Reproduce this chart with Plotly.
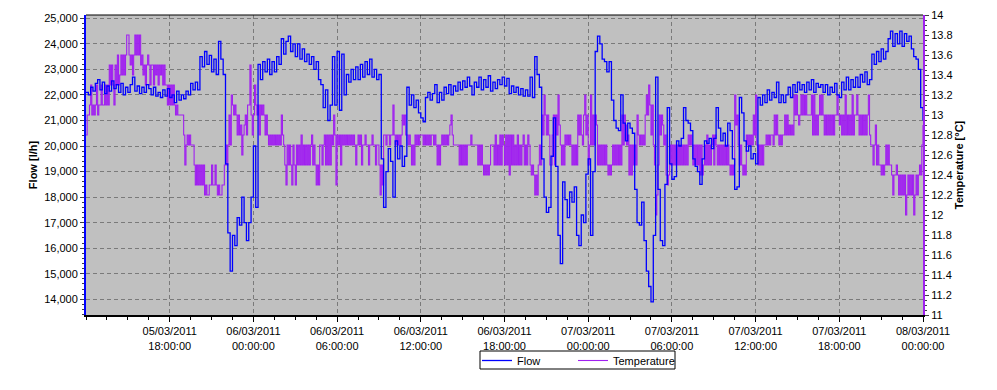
import plotly.graph_objects as go
import pandas as pd

start = "2011-03-05 12:00"
end = "2011-03-08 00:00"

# Flow [l/h], one reading every 10 minutes from 05/03/2011 12:00
flow = [
    22100, 22000, 22300, 22150, 22450, 22600, 22200, 22500, 22050, 22350, 22150, 22550,
    22250, 22400, 22100, 22450, 22000, 22300, 22100, 22400, 22700, 22150, 22350, 22050,
    22300, 22100, 22400, 22250, 22000, 22300, 21950, 22100, 21900, 22200, 21950, 22250,
    21900, 22000, 21700, 22150, 21800, 22000, 21850, 22150, 22000, 22450, 22200, 22500,
    22200, 23500, 23100, 23700, 23200, 23550, 22900, 23400, 22800, 24100, 23400, 22800,
    19300, 16600, 15100, 16500, 16100, 17200, 16900, 18000, 17000, 16300, 17000, 18000,
    20000, 17600, 23200, 22600, 23300, 22900, 23400, 22800, 23300, 22900, 23500, 23200,
    24200, 23600, 24100, 24300, 23700, 24000, 23500, 24000, 23400, 23800, 23300, 23600,
    23200, 23500, 23000, 23300, 22600, 22400, 21500, 22200, 21000, 21600, 23500, 21600,
    23700, 21400, 23600, 22000, 22800, 22500, 23000, 22600, 23100, 22600, 23200, 22700,
    23300, 22800, 23400, 22700, 23000, 22600, 22800, 19500, 17600, 19000, 19900, 19400,
    18000, 20200, 19500, 20000, 19200, 19600, 22300, 21600, 22000, 21500, 21800, 21300,
    21100, 20950, 21900, 22100, 21800, 22050, 22400, 21700, 22100, 21800, 22300, 22050,
    22400, 22000, 22350, 22150, 22500, 22200, 22550, 22300, 22700, 22350, 22000, 22500,
    22300, 22700, 22200, 22600, 22300, 22750, 22150, 22500, 22250, 22600, 22400, 22700,
    22350, 22650, 22050, 22350, 22100, 22300, 22000, 22250, 21950, 22200, 21950, 22700,
    21900, 23500, 22800, 22300, 19500, 18000, 17400, 17600, 19600, 21100, 19200, 16500,
    15400, 18600, 17900, 17200, 18200, 17800, 18400, 16500, 16100, 17300, 17000, 18900,
    19500, 16500, 19000, 23700, 24300, 24000, 23400, 23300, 22900, 23300, 21800, 21000,
    20700, 20600, 22000, 20900, 20200, 20900, 20700, 20500, 18300, 17000, 16900, 17800,
    16300, 15100, 14500, 13900, 16500, 22700, 18300, 16300, 16100, 18500, 21500, 19300,
    18700, 18800, 20200, 20000, 20300, 21500, 21000, 20900, 20600, 19500, 19200, 19000,
    18500, 19500, 20200, 20100, 20300, 19900, 20300, 21500, 20700, 20200, 20500, 20000,
    20900, 20600, 19500, 18300, 18400, 21900, 21300, 20200, 19800, 20000, 19500, 19700,
    19300, 21900, 21600, 22000, 21700, 22200, 21800, 22100, 21900, 22500, 21700, 22000,
    21700, 22000, 22300, 21900, 22400, 22100, 22500, 22200, 22400, 22100, 22500, 22200,
    22600, 22100, 22450, 22300, 22400, 22100, 22400, 22000, 22300, 22100, 22450, 22000,
    21900, 22500, 22200, 22700, 22200, 22600, 22300, 22700, 22300, 22800, 22500, 22900,
    22400, 22600, 23600, 23200, 23700, 23300, 23800, 23400, 23700, 24200, 24500, 23900,
    24400, 24000, 24500, 23900, 24400, 24100, 24300, 23800, 23500, 23400, 23000, 21500,
    21000,
]

# Temperature [°C], one reading every 5 minutes from 05/03/2011 12:00
temperature = [
    12.8, 13.0, 13.0, 13.1, 13.3, 13.0, 13.1, 13.0, 13.1, 13.3, 13.0, 13.1,
    13.1, 13.3, 13.1, 13.1, 13.3, 13.1, 13.3, 13.1, 13.5, 13.3, 13.5, 13.3,
    13.1, 13.5, 13.3, 13.6, 13.3, 13.4, 13.6, 13.4, 13.6, 13.4, 13.6, 13.8,
    13.8, 13.6, 13.5, 13.6, 13.4, 13.6, 13.8, 13.6, 13.8, 13.6, 13.8, 13.5,
    13.6, 13.4, 13.5, 13.3, 13.5, 13.6, 13.5, 13.3, 13.5, 13.5, 13.3, 13.5,
    13.4, 13.5, 13.3, 13.5, 13.4, 13.5, 13.3, 13.5, 13.3, 13.3, 13.1, 13.3,
    13.1, 13.3, 13.1, 13.3, 13.1, 13.0, 13.1, 13.0, 13.0, 13.0, 13.0, 13.0,
    12.8, 12.5, 12.7, 12.8, 12.7, 12.8, 12.7, 12.7, 12.7, 12.5, 12.3, 12.5,
    12.3, 12.5, 12.3, 12.5, 12.3, 12.5, 12.2, 12.3, 12.2, 12.2, 12.3, 12.3,
    12.5, 12.3, 12.3, 12.5, 12.3, 12.2, 12.3, 12.2, 12.2, 12.3, 12.3, 12.5,
    12.7, 12.5, 12.7, 13.0, 12.7, 13.2, 13.1, 13.0, 13.1, 13.0, 12.8, 13.0,
    12.8, 12.9, 12.6, 12.8, 12.9, 13.0, 12.8, 13.1, 13.1, 13.5, 13.0, 12.8,
    13.0, 13.3, 13.1, 13.0, 13.1, 12.8, 13.1, 13.0, 13.1, 13.0, 12.8, 13.0,
    12.8, 12.7, 12.8, 12.7, 12.8, 12.7, 12.8, 12.7, 12.8, 12.7, 12.8, 12.7,
    13.0, 12.8, 12.7, 12.5, 12.3, 12.7, 12.5, 12.7, 12.5, 12.3, 12.7, 12.5,
    12.3, 12.7, 12.5, 12.7, 12.5, 12.8, 12.5, 12.7, 12.5, 12.7, 12.5, 12.7,
    12.5, 12.7, 12.8, 12.5, 12.7, 12.5, 12.3, 12.5, 12.3, 12.7, 12.7, 12.5,
    12.7, 12.8, 12.5, 12.8, 12.5, 12.8, 12.5, 12.8, 12.7, 13.0, 12.8, 12.3,
    12.8, 12.7, 12.8, 12.5, 12.8, 12.7, 12.8, 12.7, 12.8, 12.7, 12.8, 12.7,
    12.8, 12.7, 12.8, 12.7, 12.5, 12.7, 12.8, 12.7, 12.8, 12.5, 12.7, 12.7,
    12.8, 12.7, 12.7, 12.5, 12.7, 12.7, 12.8, 12.7, 12.7, 12.5, 12.7, 12.7,
    12.5, 12.2, 12.5, 12.3, 12.8, 12.8, 12.7, 12.8, 12.8, 12.7, 12.8, 12.8,
    13.1, 12.8, 12.7, 12.8, 12.7, 12.8, 12.7, 12.8, 13.0, 12.9, 13.0, 12.8,
    12.8, 12.7, 12.8, 12.7, 12.5, 12.7, 12.5, 12.8, 12.7, 12.8, 12.7, 12.8,
    12.8, 12.8, 12.7, 12.8, 12.7, 12.8, 12.7, 12.8, 12.7, 12.8, 12.8, 12.7,
    12.8, 12.7, 12.5, 12.7, 12.5, 12.7, 12.8, 12.7, 12.8, 12.7, 12.8, 12.7,
    12.8, 12.9, 13.0, 12.8, 12.7, 12.7, 12.7, 12.7, 12.7, 12.5, 12.7, 12.5,
    12.7, 12.5, 12.7, 12.5, 12.7, 12.7, 12.7, 12.8, 12.7, 12.7, 12.7, 12.7,
    12.7, 12.5, 12.7, 12.5, 12.7, 12.5, 12.4, 12.5, 12.4, 12.5, 12.4, 12.5,
    12.7, 12.7, 12.7, 12.5, 12.8, 12.5, 12.7, 12.5, 12.8, 12.5, 12.8, 12.7,
    12.5, 12.8, 12.5, 12.8, 12.4, 12.8, 12.5, 12.8, 12.5, 12.7, 12.5, 12.8,
    12.5, 12.7, 12.5, 12.7, 12.8, 12.5, 12.7, 12.5, 12.8, 12.7, 12.5, 12.4,
    12.5, 12.4, 12.2, 12.4, 12.2, 12.5, 12.7, 12.5, 13.0, 12.8, 13.2, 13.0,
    12.8, 13.0, 12.8, 12.5, 12.5, 12.8, 13.0, 12.5, 13.0, 12.8, 13.2, 12.9,
    12.7, 12.5, 12.7, 12.5, 12.8, 12.7, 12.8, 12.7, 12.8, 12.7, 12.5, 12.7,
    12.5, 12.7, 12.5, 13.0, 12.8, 13.0, 12.8, 12.7, 13.0, 13.2, 12.8, 13.0,
    12.5, 12.7, 13.2, 12.7, 13.0, 12.7, 13.0, 12.9, 12.5, 12.7, 12.5, 12.7,
    12.5, 12.7, 12.5, 12.7, 12.5, 12.4, 12.5, 12.4, 12.5, 12.7, 12.5, 12.7,
    12.5, 12.7, 12.5, 12.7, 12.5, 13.0, 12.7, 13.0, 12.9, 12.7, 12.8, 12.4,
    12.7, 12.4, 12.7, 12.5, 12.7, 12.5, 13.0, 12.8, 12.7, 12.8, 12.7, 12.8,
    12.7, 13.0, 13.2, 13.0, 13.3, 13.1, 12.8, 13.1, 12.7, 12.5, 12.0, 12.2,
    12.5, 13.0, 12.8, 13.0, 12.9, 12.7, 12.8, 12.4, 12.3, 12.4, 12.7, 12.5,
    12.7, 12.5, 12.7, 12.5, 12.7, 12.5, 12.7, 12.5, 12.7, 12.5, 12.7, 12.5,
    12.7, 12.5, 12.8, 12.7, 12.8, 12.7, 12.5, 12.7, 12.5, 12.7, 12.5, 12.7,
    12.4, 12.7, 12.4, 12.5, 12.7, 12.5, 12.8, 12.5, 12.7, 12.5, 12.7, 12.8,
    12.5, 12.8, 12.7, 12.5, 12.7, 12.5, 12.7, 12.5, 12.7, 12.5, 12.7, 12.5,
    12.7, 12.5, 12.4, 12.5, 12.4, 12.5, 13.2, 12.9, 13.0, 12.7, 12.5, 12.7,
    12.5, 12.4, 12.5, 12.4, 12.8, 12.7, 12.8, 12.7, 12.8, 12.7, 13.0, 12.8,
    13.2, 12.7, 12.5, 12.7, 12.5, 12.7, 12.5, 12.7, 12.7, 12.8, 12.7, 12.8,
    12.7, 12.8, 12.8, 12.7, 13.0, 12.8, 13.0, 12.8, 12.7, 12.8, 12.7, 12.8,
    12.8, 13.0, 12.8, 13.0, 12.8, 12.9, 12.8, 12.9, 12.8, 13.2, 13.0, 13.2,
    13.0, 12.9, 13.0, 13.2, 13.0, 13.2, 13.0, 13.2, 13.0, 13.0, 13.0, 13.0,
    13.2, 12.8, 13.2, 12.8, 13.0, 12.8, 13.0, 13.2, 13.0, 13.2, 13.0, 12.8,
    13.0, 12.8, 13.0, 12.8, 13.0, 12.8, 13.0, 12.8, 13.0, 13.0, 13.2, 13.0,
    12.9, 13.0, 12.8, 13.0, 12.8, 13.2, 12.8, 13.0, 12.8, 13.0, 12.8, 13.2,
    12.8, 13.0, 13.0, 13.2, 13.0, 12.8, 13.0, 12.8, 13.0, 12.8, 13.0, 12.8,
    13.0, 13.2, 12.8, 12.7, 12.7, 12.5, 12.7, 12.9, 12.5, 12.7, 12.5, 12.5,
    12.4, 12.5, 12.4, 12.5, 12.7, 12.5, 12.7, 12.5, 12.5, 12.4, 12.2, 12.4,
    12.4, 12.5, 12.4, 12.2, 12.4, 12.2, 12.4, 12.2, 12.4, 12.0, 12.2, 12.4,
    12.2, 12.4, 12.2, 12.4, 12.0, 12.2, 12.4, 12.2, 12.4, 12.5, 12.4, 12.7,
    12.9,
]

tick_vals = [
    "2011-03-05 18:00", "2011-03-06 00:00", "2011-03-06 06:00", "2011-03-06 12:00",
    "2011-03-06 18:00", "2011-03-07 00:00", "2011-03-07 06:00", "2011-03-07 12:00",
    "2011-03-07 18:00", "2011-03-08 00:00",
]
tick_text = [
    "05/03/2011<br>18:00:00", "06/03/2011<br>00:00:00", "06/03/2011<br>06:00:00",
    "06/03/2011<br>12:00:00", "06/03/2011<br>18:00:00", "07/03/2011<br>00:00:00",
    "07/03/2011<br>06:00:00", "07/03/2011<br>12:00:00", "07/03/2011<br>18:00:00",
    "08/03/2011<br>00:00:00",
]

flow_time = pd.date_range(start, periods=len(flow), freq="10min")
temp_time = pd.date_range(start, periods=len(temperature), freq="5min")

BLUE = "#0000FF"
PURPLE = "#A020F0"
FONT = "Liberation Sans, Arial, sans-serif"

# plot area in pixels: x 86..923, y 15..315
ML, MR, MT, MB = 86, 74, 15, 75
PW, PH = 997 - ML - MR, 390 - MT - MB

fig = go.Figure()
fig.add_trace(go.Scatter(
    x=flow_time, y=flow, name="Flow", mode="lines", yaxis="y2", legend="legend",
    line=dict(color=BLUE, width=1.3, shape="hv"),
))
fig.add_trace(go.Scatter(
    x=temp_time, y=temperature, name="Temperature", mode="lines", yaxis="y",
    legend="legend2",
    line=dict(color=PURPLE, width=1.1, shape="hv"),
))

legend_common = dict(
    orientation="h", xref="container", yref="container",
    xanchor="left", y=1 - 346 / 390, yanchor="top",
    bgcolor="rgba(0,0,0,0)", borderwidth=0, itemwidth=30,
    font=dict(family=FONT, size=11, color="black"),
)

fig.update_layout(
    width=997, height=390,
    margin=dict(l=ML, r=MR, t=MT, b=MB),
    paper_bgcolor="white",
    plot_bgcolor="#C0C0C0",
    font=dict(family=FONT, size=11, color="black"),
    showlegend=True,
    legend=dict(x=477 / 997, **legend_common),
    legend2=dict(x=573 / 997, **legend_common),
    xaxis=dict(
        type="date", range=[start, end], automargin=False,
        tickmode="array", tickvals=tick_vals, ticktext=tick_text,
        ticks="outside", ticklen=5, tickcolor="black", tickwidth=1,
        showline=True, linecolor="black", linewidth=2,
        showgrid=True, gridcolor="#7A7A7A", gridwidth=1, griddash="4px,3px",
        zeroline=False,
        tickfont=dict(family=FONT, size=11, color="black"),
        minor=dict(ticks="outside", ticklen=3, tickcolor="black",
                   tick0=start, dtick=5400000, showgrid=False),
    ),
    yaxis=dict(
        side="right", range=[11, 14], tick0=11, dtick=0.2, automargin=False,
        showgrid=False, zeroline=False,
        showline=True, linecolor=PURPLE, linewidth=2,
        ticks="outside", ticklen=4, tickcolor="#404040",
        tickfont=dict(family=FONT, size=11, color="black"),
        minor=dict(ticks="outside", ticklen=2, tickcolor="#404040", dtick=0.05, showgrid=False),
        title=dict(text="<b>Temperature [°C]</b>", standoff=4,
                   font=dict(family=FONT, size=11, color="black")),
    ),
    yaxis2=dict(
        overlaying="y", side="left", range=[13385, 25129], automargin=False,
        tick0=0, dtick=1000, tickformat=",d",
        showgrid=True, gridcolor="#7A7A7A", gridwidth=1, griddash="4px,3px",
        zeroline=False,
        showline=True, linecolor=BLUE, linewidth=2,
        ticks="outside", ticklen=4, tickcolor="#404040",
        tickfont=dict(family=FONT, size=11, color="black"),
        minor=dict(ticks="outside", ticklen=2, tickcolor="#404040", dtick=200, showgrid=False),
        title=dict(text="<b>Flow [l/h]</b>", standoff=4,
                   font=dict(family=FONT, size=11, color="black")),
    ),
    shapes=[
        # top frame line
        dict(type="line", xref="paper", yref="paper", x0=0, x1=1, y0=1, y1=1,
             line=dict(color="black", width=1)),
        # legend frame
        dict(type="rect", xref="paper", yref="paper",
             x0=(480 - ML) / PW, x1=(675 - ML) / PW,
             y0=(MT + PH - 369) / PH, y1=(MT + PH - 351) / PH,
             line=dict(color="black", width=1), fillcolor="white", layer="below"),
    ],
)

fig.write_html(
    "out.html",
    config={"displayModeBar": False},
    post_script="document.body.style.margin='0';document.body.style.overflow='hidden';",
)
